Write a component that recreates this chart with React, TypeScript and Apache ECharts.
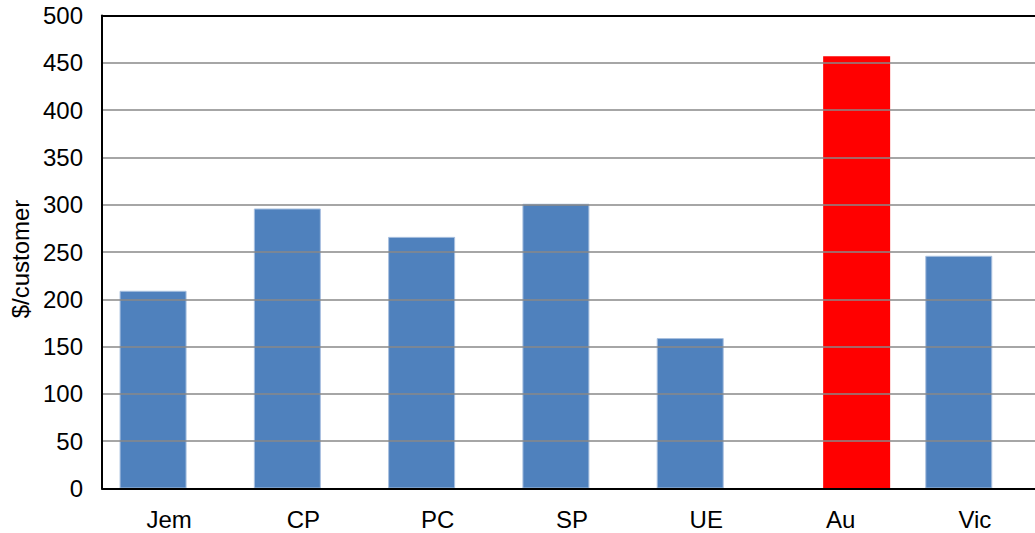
import React, { useEffect, useRef } from "react";
import * as echarts from "echarts";

const categories = ["Jem", "CP", "PC", "SP", "UE", "Au", "Vic"];
const regionValues: (number | string)[] = [209, 296, 266, 301, 159, "-", 246];
const australiaValues: (number | string)[] = ["-", "-", "-", "-", "-", 457, "-"];
const yTicks = { min: 0, max: 500, interval: 50 };
const yTitle = "$/customer";

export default function App() {
  const ref = useRef<HTMLDivElement>(null);
  useEffect(() => {
    document.body.style.margin = "0";
    const chart = echarts.init(ref.current!, undefined, { renderer: "svg" });
    const font = "'Liberation Sans', Arial, sans-serif";
    chart.setOption({
      animation: false,
      backgroundColor: "#ffffff",
      grid: {
        left: 102,
        top: 15.5,
        width: 940,
        height: 473,
        show: false,
        containLabel: false,
      },
      xAxis: [
        {
          type: "category",
          data: categories,
          axisLine: { show: true, lineStyle: { color: "#000000", width: 2 } },
          axisTick: { show: false },
          axisLabel: { color: "#000000", fontSize: 24, fontFamily: font, margin: 19 },
          splitLine: { show: false },
          z: 5,
        },
        {
          type: "category",
          data: categories,
          position: "top",
          axisLine: { show: true, onZero: false, lineStyle: { color: "#000000", width: 2 } },
          axisTick: { show: false },
          axisLabel: { show: false },
          splitLine: { show: false },
          z: 5,
        },
      ],
      yAxis: {
        type: "value",
        min: yTicks.min,
        max: yTicks.max,
        interval: yTicks.interval,
        axisLine: { show: true, lineStyle: { color: "#000000", width: 2 } },
        axisTick: { show: false },
        axisLabel: { color: "#000000", fontSize: 24, fontFamily: font, margin: 19 },
        splitLine: { show: true, lineStyle: { color: "#898989", width: 1.5 } },
        z: 5,
      },
      graphic: [
        {
          type: "text",
          x: 20,
          y: 259,
          rotation: Math.PI / 2,
          style: {
            text: yTitle,
            fill: "#000000",
            fontSize: 24,
            fontFamily: font,
            align: "center",
            verticalAlign: "middle",
          },
        },
      ],
      series: [
        {
          type: "bar",
          data: regionValues,
          barWidth: 67,
          barGap: "-52%",
          itemStyle: { color: "#4F81BD", borderColor: "#a9c0df", borderWidth: 1 },
        },
        {
          type: "bar",
          data: australiaValues,
          barWidth: 67,
          barGap: "-52%",
          itemStyle: { color: "#FF0000" },
        },
      ],
    });
    return () => chart.dispose();
  }, []);
  return (
    <div style={{ position: "fixed", left: 0, top: 0, width: 1035, height: 533, overflow: "hidden", background: "#fff" }}>
      <div ref={ref} style={{ width: 1060, height: 533 }} />
    </div>
  );
}
